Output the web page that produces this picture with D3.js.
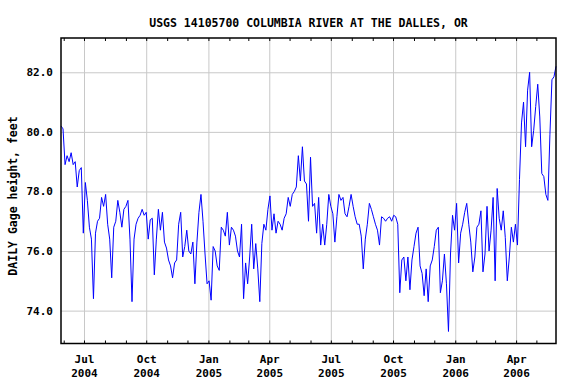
<!DOCTYPE html>
<html>
<head>
<meta charset="utf-8">
<script src="https://cdn.jsdelivr.net/npm/d3@7"></script>
<style>
  body { margin: 0; background: #fff; }
  svg text { font-family: "DejaVu Sans Mono", monospace; font-weight: bold; fill: #000; }
  .title { font-size: 11.5px; }
  .ylabel { font-size: 11.5px; }
  .tick text { font-size: 11px; }
</style>
</head>
<body>
<div id="chart"></div>
<script>
// ---------------------- data ----------------------
const chartTitle = "USGS 14105700 COLUMBIA RIVER AT THE DALLES, OR";
const yLabel = "DAILY Gage height, feet";
const firstDay = "2004-05-28";
const lastDay = "2006-05-30";
const stepDays = 3; // one reading every 3 days
const yTicks = [74, 76, 78, 80, 82];

// gage height, feet
const gageHeight = [
  80.2, 80.1, 78.9, 79.2, 79.0, 79.3, 78.9, 79.0, 78.15, 78.7,
  78.8, 76.6, 78.3, 77.7, 76.8, 76.4, 74.4, 76.6, 77.0, 77.1,
  77.8, 77.5, 77.9, 76.9, 76.4, 75.1, 76.8, 77.0, 77.7, 77.3,
  76.8, 77.4, 77.5, 77.7, 76.4, 74.3, 76.4, 76.9, 77.1, 77.2,
  77.4, 77.2,
  77.3, 76.4, 77.05, 77.1, 75.2, 76.4, 77.4, 76.7, 77.3, 76.3,
  76.1, 75.7, 75.5, 75.1, 75.6, 75.7, 76.9, 77.3, 75.8, 76.15,
  76.7, 76.0, 75.9, 76.3, 74.9, 76.3, 77.3, 77.9, 77.0, 75.9,
  74.9, 75.0, 74.35, 76.15, 76.0, 75.5, 75.35, 76.8, 76.7, 76.5,
  77.3,
  76.2, 76.8, 76.7, 76.5, 76.0, 75.8, 76.9, 74.4, 75.6, 74.9,
  75.8, 76.9, 75.4, 76.25, 75.4, 74.3, 76.25, 76.9, 76.7, 77.4,
  77.85, 76.7, 77.25, 76.6, 77.0, 76.9, 76.7, 77.1, 77.25, 77.8,
  77.5, 77.9, 78.0, 78.15, 79.2, 78.35, 79.5, 78.35, 78.25, 77.0,
  79.15, 77.5,
  77.6, 76.6, 77.8, 76.2, 76.9, 76.2, 76.9, 77.9, 77.5, 77.25,
  76.3, 77.15, 77.9, 77.7, 77.8, 77.25, 77.15, 77.5, 77.9, 77.5,
  77.15, 76.9, 76.9, 76.5, 75.4, 76.4, 76.9, 77.6, 77.4, 77.15,
  76.9, 76.7, 76.2, 77.15, 77.1, 77.0, 77.1, 77.15, 77.0, 77.2,
  77.15,
  76.9, 74.6, 75.7, 75.8, 75.0, 75.8, 74.7, 75.7, 76.15, 76.6,
  76.8, 75.5, 75.25, 74.5, 75.4, 74.3, 75.5, 75.7, 76.15, 76.7,
  76.8, 74.6, 75.0, 75.9, 74.9, 73.3, 75.9, 77.2, 76.7, 77.6,
  75.6, 76.6, 76.9, 77.3, 77.6, 76.9, 76.3, 75.3, 75.8, 76.8,
  76.9,
  77.35, 75.3, 75.9, 77.5, 76.0, 76.7, 77.8, 75.0, 78.1, 77.1,
  76.7, 77.35, 76.45, 75.0, 75.8, 76.8, 76.3, 76.9, 76.2, 78.4,
  80.3, 81.0, 79.5, 81.4, 82.0, 79.5, 80.05, 80.85, 81.6, 80.5,
  78.6, 78.5, 77.9, 77.7, 79.9, 81.75, 81.85, 82.2
];

// ---------------------- chart ----------------------
const parseDay = d3.timeParse("%Y-%m-%d");
const start = parseDay(firstDay);
const data = gageHeight.map((v, i) => ({ date: d3.timeDay.offset(start, i * stepDays), value: v }));

const margin = {top: 38, right: 20, bottom: 40.5, left: 61},
  width = 576 - margin.left - margin.right,
  height = 384 - margin.top - margin.bottom;

const svg = d3.select("#chart")
  .append("svg")
  .attr("width", 576)
  .attr("height", 384);

const g = svg.append("g")
  .attr("transform", `translate(${margin.left}, ${margin.top})`);

const x = d3.scaleTime()
  .domain([start, parseDay(lastDay)])
  .range([0, width]);

const y = d3.scaleLinear()
  .domain([72.896, 83.151])
  .range([height, 0]);

// grid lines
g.append("g")
  .attr("class", "xgrid")
  .attr("transform", `translate(0, ${height})`)
  .call(d3.axisBottom(x).ticks(d3.timeMonth.every(3)).tickSize(-height).tickFormat(""))
  .call(s => s.select(".domain").remove())
  .selectAll("line").attr("stroke", "#c8c8c8");

g.append("g")
  .attr("class", "ygrid")
  .call(d3.axisLeft(y).tickValues(yTicks).tickSize(-width).tickFormat(""))
  .call(s => s.select(".domain").remove())
  .selectAll("line").attr("stroke", "#c8c8c8");

// monthly ticks, inside the frame (bottom and top)
g.append("g")
  .attr("transform", `translate(0, ${height})`)
  .call(d3.axisBottom(x).ticks(d3.timeMonth.every(1)).tickSize(-3).tickFormat(""))
  .call(s => s.select(".domain").remove())
  .selectAll("line").attr("stroke", "#000");

g.append("g")
  .call(d3.axisTop(x).ticks(d3.timeMonth.every(1)).tickSize(-3).tickFormat(""))
  .call(s => s.select(".domain").remove())
  .selectAll("line").attr("stroke", "#000");

// x labels: month over year
const fmtMon = d3.timeFormat("%b"), fmtYear = d3.timeFormat("%Y");
g.append("g")
  .attr("transform", `translate(0, ${height})`)
  .call(d3.axisBottom(x).ticks(d3.timeMonth.every(3)).tickSize(0))
  .call(s => s.select(".domain").remove())
  .selectAll(".tick text")
  .attr("dy", null)
  .each(function(d) {
    const t = d3.select(this).text(null);
    t.append("tspan").attr("x", 0).attr("y", 19).text(fmtMon(d));
    t.append("tspan").attr("x", 0).attr("y", 33).text(fmtYear(d));
  });

// y labels
g.append("g")
  .call(d3.axisLeft(y).tickValues(yTicks).tickSize(0).tickPadding(8).tickFormat(d3.format(".1f")))
  .call(s => s.select(".domain").remove());

// the line
g.append("path")
  .datum(data)
  .attr("fill", "none")
  .attr("stroke", "#0000ff")
  .attr("stroke-width", 1)
  .attr("d", d3.line().x(d => x(d.date)).y(d => y(d.value)));

// frame
g.append("rect")
  .attr("width", width)
  .attr("height", height)
  .attr("fill", "none")
  .attr("stroke", "#000")
  .attr("stroke-width", 1.5);

// title and y axis label
svg.append("text")
  .attr("class", "title")
  .attr("x", margin.left + width / 2)
  .attr("y", 26.5)
  .attr("text-anchor", "middle")
  .text(chartTitle);

svg.append("text")
  .attr("class", "ylabel")
  .attr("transform", "translate(17, 196) rotate(-90)")
  .attr("text-anchor", "middle")
  .text(yLabel);
</script>
</body>
</html>
